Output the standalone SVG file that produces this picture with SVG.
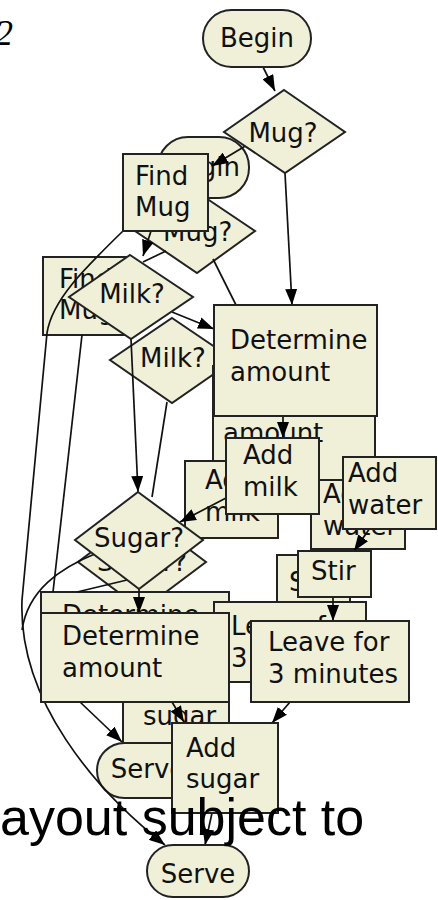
<svg xmlns="http://www.w3.org/2000/svg" width="438" height="900" viewBox="0 0 438 900">
<style>
.n{fill:#f0f0d9;stroke:#222;stroke-width:2}
.t{font-family:"DejaVu Sans",sans-serif;font-size:26px;fill:#111}
.m{text-anchor:middle}
.e{fill:none;stroke:#111;stroke-width:1.7}
.a{marker-end:url(#ah)}
</style>
<defs>
<marker id="ah" viewBox="0 0 16 12" refX="16" refY="6" markerWidth="16" markerHeight="12" markerUnits="userSpaceOnUse" orient="auto">
<path d="M0,0 L16,6 L0,12 z" fill="#000"/>
</marker>
</defs>
<rect width="438" height="900" fill="#fff"/>
<text x="-5" y="45" font-family="Liberation Serif,serif" font-style="italic" font-size="36" fill="#000">2</text>

<g id="ghost">
<g id="g-mug"><polygon class="n" points="194,190 255,231 197,273 135,231"/><text class="t" x="163" y="241">Mug?</text></g>
<g id="g-begin"><rect class="n" x="158" y="137" width="91" height="61" rx="30"/><text class="t m" x="203" y="176">Begin</text></g>
<g id="g-find"><rect class="n" x="43" y="257" width="85" height="78"/><text class="t" x="59" y="288">Find</text><text class="t" x="59" y="319">Mug</text></g>
<g id="g-milk"><polygon class="n" points="172,318 234,360 172,403 110,360"/><text class="t" x="140" y="367">Milk?</text></g>
<g id="g-det1"><rect class="n" x="213" y="366" width="162" height="114"/><text class="t" x="223" y="442">amount</text></g>
<g id="g-addmilk"><rect class="n" x="185" y="461" width="93" height="77"/><text class="t" x="205" y="489">Add</text><text class="t" x="205" y="521">milk</text></g>
<g id="g-addwater"><rect class="n" x="311" y="480" width="94" height="69"/><text class="t" x="323" y="503">Add</text><text class="t" x="323" y="535">water</text></g>
<g id="g-sugar"><polygon class="n" points="142,514 206,562 142,610 78,562"/><text class="t m" x="142" y="571">Sugar?</text></g>
<g id="g-stir"><rect class="n" x="277" y="555" width="73" height="50"/><text class="t" x="289" y="591">Stir</text></g>
<g id="g-det2"><rect class="n" x="41" y="592" width="188" height="90"/><text class="t" x="62" y="624">Determine</text></g>
<g id="g-leave"><rect class="n" x="214" y="602" width="152" height="80"/><text class="t" x="231" y="635">Leave for</text><text class="t" x="231" y="667">3 minutes</text></g>
<g id="g-addsugar"><rect class="n" x="123" y="660" width="106" height="90"/><text class="t" x="143" y="725">sugar</text></g>
<g id="g-serve"><rect class="n" x="97" y="743" width="104" height="55" rx="27.5"/><text class="t m" x="148" y="778">Serve</text></g>
</g>

<g id="connectors">
<path class="e a" d="M263,67 L275,91"/>
<path class="e a" d="M247,145 L212,166"/>
<path class="e a" d="M285,173 L292,305"/>
<path class="e a" d="M151,231 L143,256"/>
<path class="e a" d="M172,312 L214,329"/>
<path class="e a" d="M131,339 L138,492"/>
<path class="e a" d="M283,416 L283,438"/>
<path class="e a" d="M226,498 L180,522"/>
<path class="e a" d="M370,528 L354,551"/>
<path class="e a" d="M333,597 L333,621"/>
<path class="e a" d="M139,589 L139,613"/>
<path class="e a" d="M290,702 L272,723"/>
<path class="e a" d="M212,813 L205,845"/>
<path class="e a" d="M80,702 L122,742"/>
<path class="e a" d="M172,702 L184,722"/>
<path class="e a" d="M123,231 C85,268 52,300 47,333 L22,600 C18,700 95,790 165,845"/>
<path class="e" d="M82,335 L53,592"/>
<path class="e" d="M97,553 C60,568 28,590 22,630"/>
<path class="e" d="M166,251 L143,262"/>
<path class="e" d="M213,259 L236,305"/>
<path class="e" d="M167,402 L152,497"/>
<path class="e" d="M127,580 L77,592"/>
</g>

<g id="front">
<g id="begin"><rect class="n" x="203" y="10" width="108" height="57" rx="28.5"/><text class="t m" x="257" y="47">Begin</text></g>
<g id="mug"><polygon class="n" points="284,90 345,132 285,173 224,132"/><text class="t m" x="283" y="142">Mug?</text></g>
<g id="findmug"><rect class="n" x="123" y="154" width="85" height="77"/><text class="t" x="135" y="185">Find</text><text class="t" x="135" y="216">Mug</text></g>
<g id="milk"><polygon class="n" points="130,255 193,297 131,339 69,297"/><text class="t m" x="132" y="303">Milk?</text></g>
<g id="det1"><rect class="n" x="214" y="305" width="163" height="111"/><text class="t" x="230" y="349">Determine</text><text class="t" x="230" y="381">amount</text></g>
<g id="addmilk"><rect class="n" x="226" y="438" width="93" height="76"/><text class="t" x="243" y="464">Add</text><text class="t" x="243" y="496">milk</text></g>
<g id="addwater"><rect class="n" x="343" y="457" width="93" height="72"/><text class="t" x="348" y="482">Add</text><text class="t" x="348" y="514">water</text></g>
<g id="sugar"><polygon class="n" points="138,492 203,540 139,589 75,540"/><text class="t m" x="139" y="547">Sugar?</text></g>
<g id="stir"><rect class="n" x="298" y="551" width="73" height="46"/><text class="t" x="311" y="580">Stir</text></g>
<g id="det2"><rect class="n" x="41" y="613" width="188" height="89"/><text class="t" x="62" y="645">Determine</text><text class="t" x="62" y="677">amount</text></g>
<g id="leave"><rect class="n" x="251" y="621" width="158" height="81"/><text class="t" x="268" y="651">Leave for</text><text class="t" x="268" y="683">3 minutes</text></g>
<g id="addsugar"><rect class="n" x="172" y="723" width="106" height="90"/><text class="t" x="186" y="757">Add</text><text class="t" x="186" y="788">sugar</text></g>
<g id="serve"><rect class="n" x="147" y="845" width="102" height="52" rx="26"/><text class="t m" x="198" y="883">Serve</text></g>
</g>

<text x="0" y="835" font-family="Liberation Sans,Arial,sans-serif" font-size="52" fill="#000">ayout subject to</text>
</svg>
